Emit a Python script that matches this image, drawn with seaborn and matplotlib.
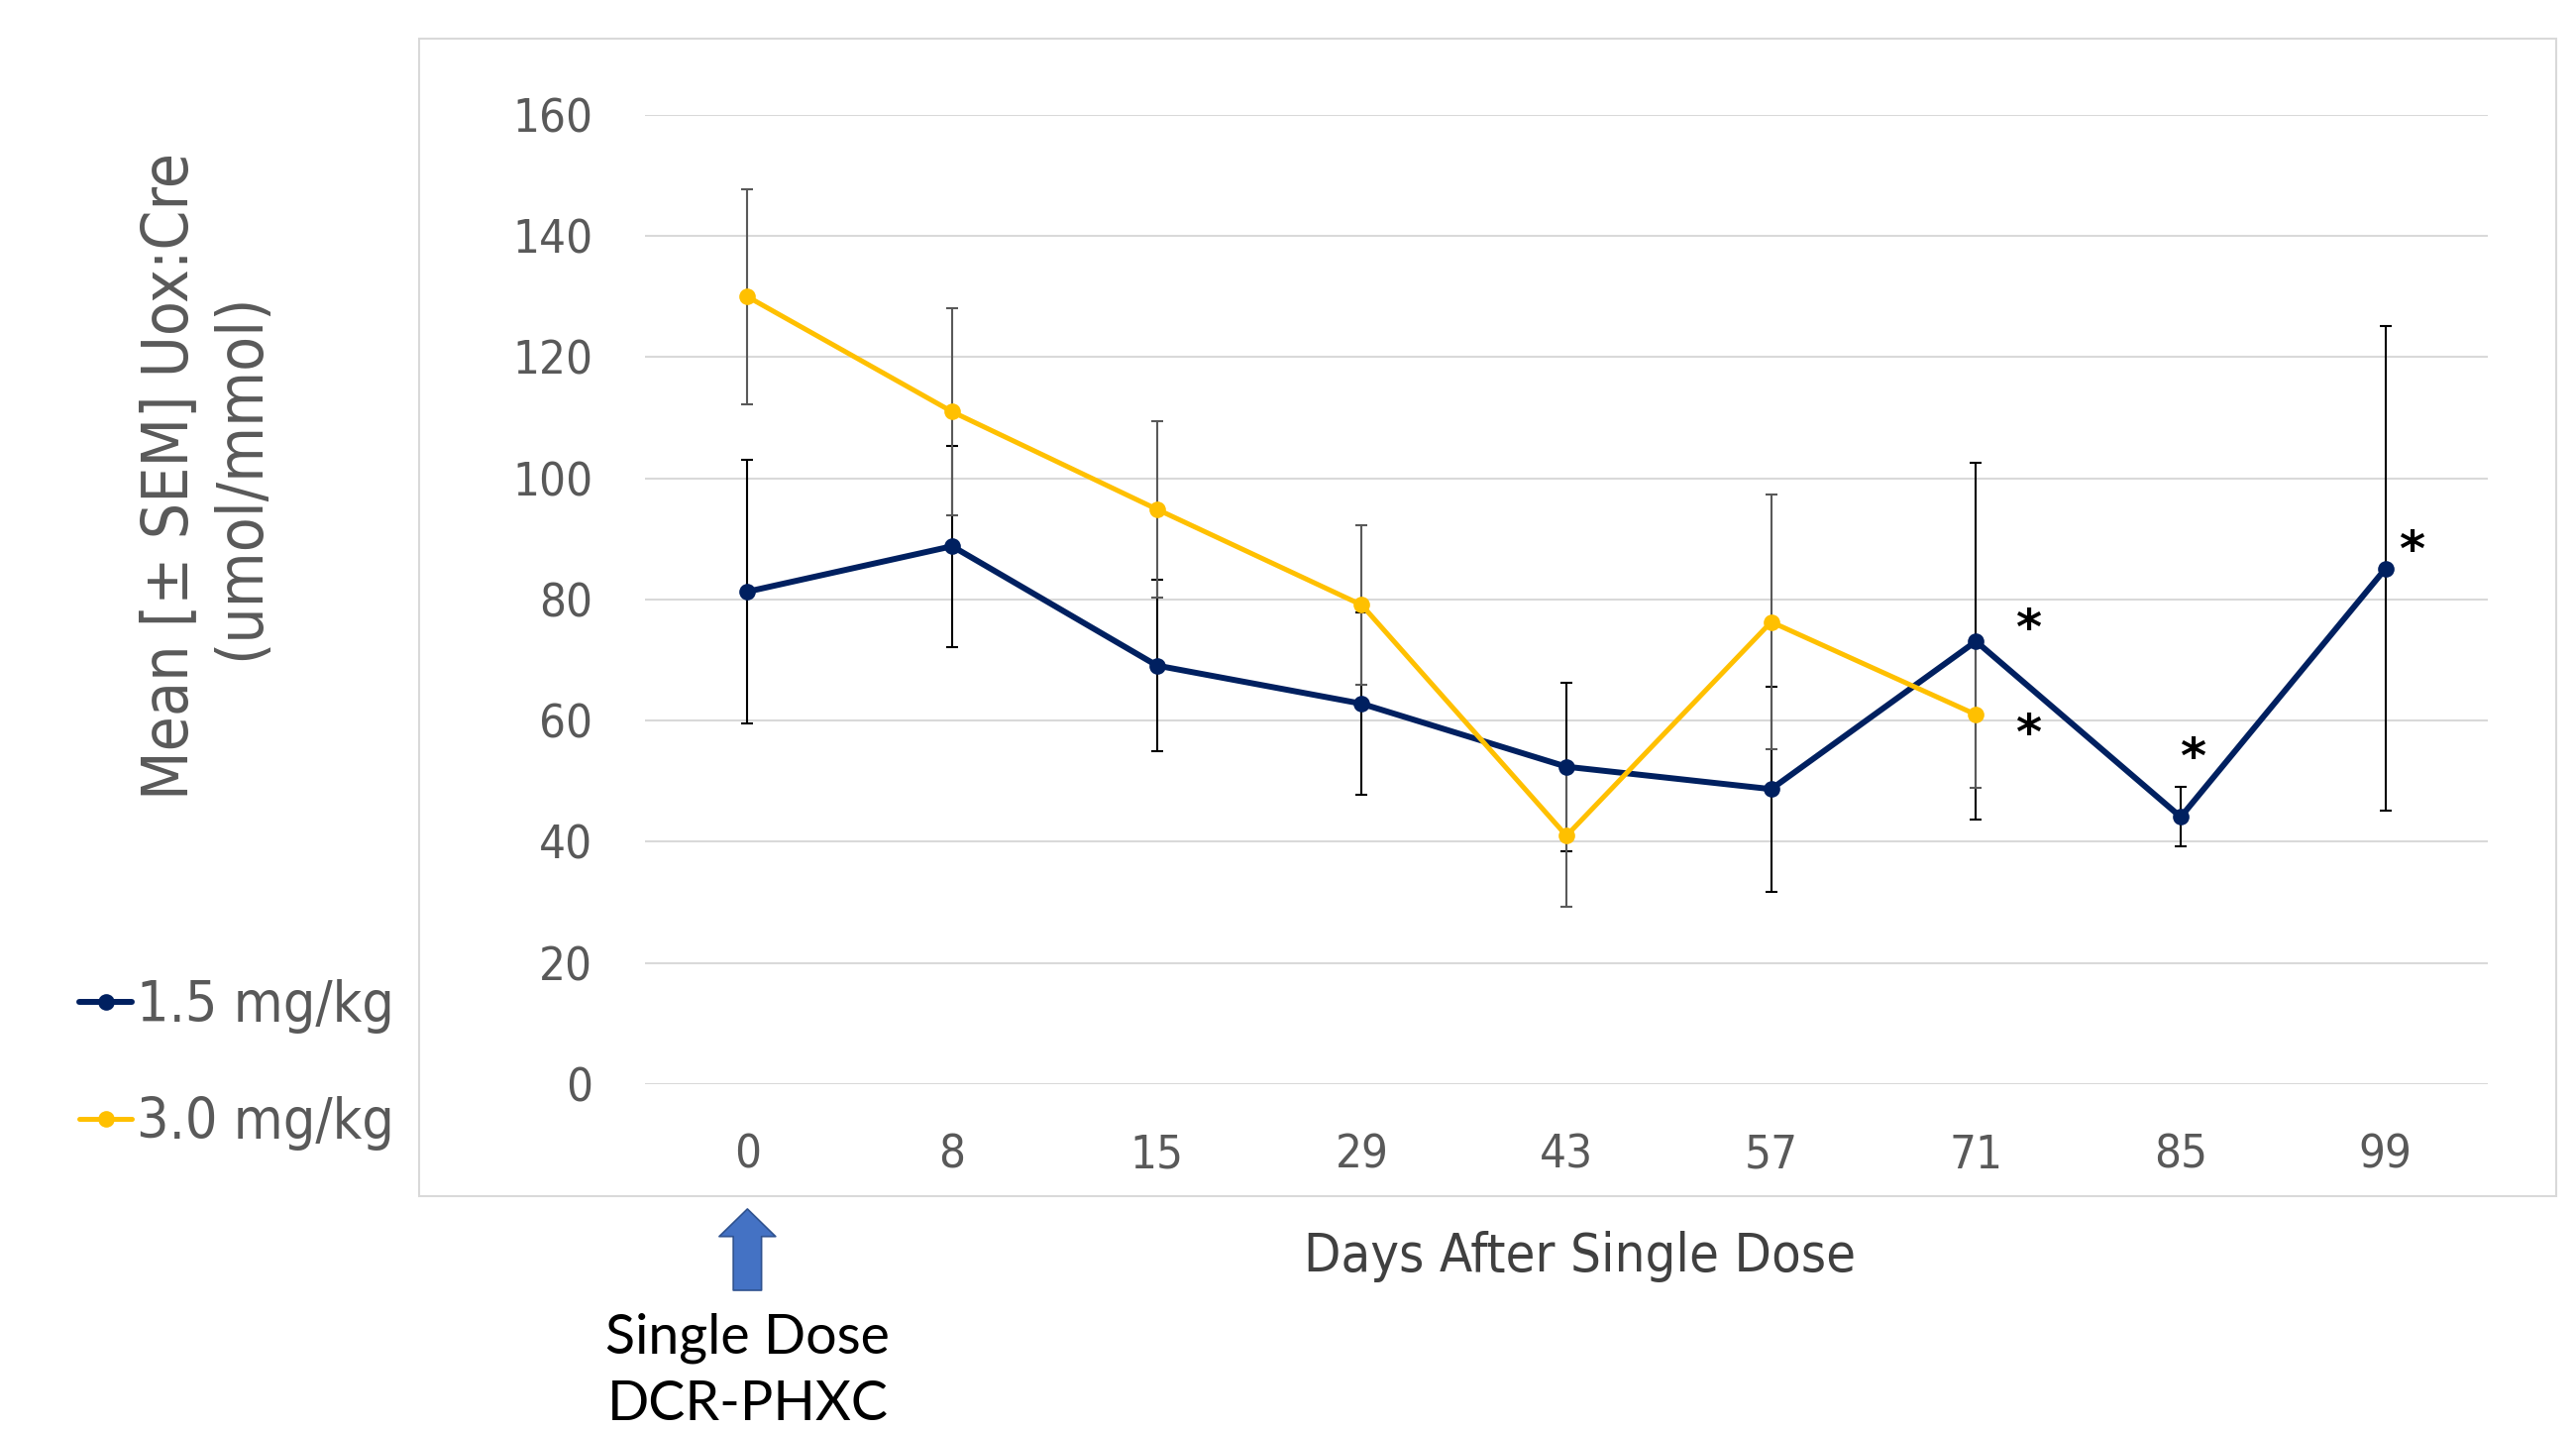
import os
import matplotlib
matplotlib.use("Agg")
import matplotlib.pyplot as plt
from matplotlib import font_manager
from matplotlib.lines import Line2D
from matplotlib.patches import Rectangle
import seaborn as sns
import pandas as pd

# ---------------- data ----------------
days = ["0", "8", "15", "29", "43", "57", "71", "85", "99"]
dose_labels = ["1.5 mg/kg", "3.0 mg/kg"]
mean_15 = [81.3, 88.8, 69.1, 62.8, 52.4, 48.7, 73.1, 44.1, 85.1]
sem_15 = [21.7, 16.6, 14.2, 15.0, 13.9, 16.9, 29.4, 4.9, 40.0]
mean_30 = [130.0, 111.0, 94.9, 79.1, 41.0, 76.3, 61.0]
sem_30 = [17.8, 17.1, 14.5, 13.1, 11.7, 21.0, 12.1]
y_ticks = [0, 20, 40, 60, 80, 100, 120, 140, 160]
sig_15_days = ["71", "85", "99"]
sig_30_days = ["71"]

# ---------------- style ----------------
NAVY = "#002060"
GOLD = "#FFC000"
GRID = "#D9D9D9"
TICK = "#595959"
XLAB = "#404040"

sns.set_theme(style="white")
plt.rcParams["font.family"] = ["DejaVu Sans"]

COND = None
for f in font_manager.fontManager.ttflist:
    if os.path.basename(f.fname).lower() == "dejavusanscondensed.ttf":
        COND = f.fname
        break


def gfont(size):
    if COND:
        return font_manager.FontProperties(fname=COND, size=size)
    return font_manager.FontProperties(family="DejaVu Sans", size=size * 0.9)


fig = plt.figure(figsize=(26, 14.44), dpi=100)
ax = fig.add_axes([0.2504, 0.2424, 0.7154, 0.6773])

# chart-area border
fig.patches.append(Rectangle((0.1627, 0.1641), 0.8296, 0.8089, transform=fig.transFigure,
                             fill=False, edgecolor=GRID, linewidth=1.5, zorder=0))

df15 = pd.DataFrame({"pos": list(range(len(mean_15))), "mean": mean_15, "sem": sem_15})
df30 = pd.DataFrame({"pos": list(range(len(mean_30))), "mean": mean_30, "sem": sem_30})

ax.errorbar(df15["pos"], df15["mean"], yerr=df15["sem"], fmt="none", ecolor="black",
            elinewidth=1.5, capsize=4, capthick=1.5, zorder=3)
ax.errorbar(df30["pos"], df30["mean"], yerr=df30["sem"], fmt="none", ecolor=TICK,
            elinewidth=1.5, capsize=4, capthick=1.5, zorder=3)

sns.lineplot(data=df15, x="pos", y="mean", color=NAVY, linewidth=4.3, marker="o",
             markersize=12, markeredgewidth=0, ax=ax, zorder=4, legend=False)
sns.lineplot(data=df30, x="pos", y="mean", color=GOLD, linewidth=3.6, marker="o",
             markersize=12, markeredgewidth=0, ax=ax, zorder=5, legend=False)

ax.set_xlim(-0.5, len(days) - 0.5)
ax.set_ylim(y_ticks[0], y_ticks[-1])
ax.set_xticks(range(len(days)))
ax.set_xticklabels(days)
ax.set_yticks(y_ticks)
ax.set_yticklabels([str(v) for v in y_ticks])
for lbl in ax.get_xticklabels() + ax.get_yticklabels():
    lbl.set_fontproperties(gfont(34))
    lbl.set_color(TICK)
ax.tick_params(axis="both", length=0)
ax.tick_params(axis="x", pad=36)
ax.tick_params(axis="y", pad=38)
ax.yaxis.grid(True, color=GRID, linewidth=1.5)
ax.xaxis.grid(False)
for s in ax.spines.values():
    s.set_visible(False)
ax.set_facecolor("white")

ax.set_xlabel("Days After Single Dose", fontproperties=gfont(39), color=XLAB, va="center")
ax.xaxis.set_label_coords(0.5075, -0.178)
ax.set_ylabel("Mean [± SEM] Uox:Cre\n(umol/mmol)", fontproperties=gfont(46), color=TICK,
              va="center", linespacing=1.22)
ax.yaxis.set_label_coords(-0.2387, 0.627)

# significance asterisks
star_off_15 = {"71": (38, 8), "85": (9, 42), "99": (19, 12)}
star_off_30 = {"71": (38, -15)}
for d in sig_15_days:
    i = days.index(d)
    ax.annotate("*", xy=(i, mean_15[i]), xytext=star_off_15[d], textcoords="offset points",
                ha="center", va="center", fontsize=36, family="DejaVu Sans",
                fontweight="bold", color="black", zorder=6)
for d in sig_30_days:
    i = days.index(d)
    ax.annotate("*", xy=(i, mean_30[i]), xytext=star_off_30[d], textcoords="offset points",
                ha="center", va="center", fontsize=36, family="DejaVu Sans",
                fontweight="bold", color="black", zorder=6)

# dosing arrow and note
ax.annotate("", xy=(0, -0.1288), xycoords=("data", "axes fraction"),
            xytext=(0, -0.2127), textcoords=("data", "axes fraction"),
            arrowprops=dict(arrowstyle="simple,head_width=4.1,head_length=2.0,tail_width=2.05",
                            mutation_scale=10, fc="#4472C4", ec="#2F528F", lw=1.2,
                            shrinkA=0, shrinkB=0),
            annotation_clip=False)
ax.text(0, -0.2965, "Single Dose\nDCR-PHXC", transform=ax.get_xaxis_transform(),
        ha="center", va="center", fontsize=40, family="Lato", color="black",
        linespacing=1.38, clip_on=False)

# legend
handles = [Line2D([0], [0], color=NAVY, lw=4.3, marker="o", markersize=12, markeredgewidth=0),
           Line2D([0], [0], color=GOLD, lw=3.6, marker="o", markersize=12, markeredgewidth=0)]
leg = fig.legend(handles, dose_labels, loc="center left", bbox_to_anchor=(0.0308, 0.2559),
                 frameon=False, prop=gfont(41), handlelength=0.93, handletextpad=0.09,
                 labelspacing=1.12, borderpad=0, borderaxespad=0)
for t in leg.get_texts():
    t.set_color(TICK)

fig.savefig("out.png", dpi=100, facecolor="white")
